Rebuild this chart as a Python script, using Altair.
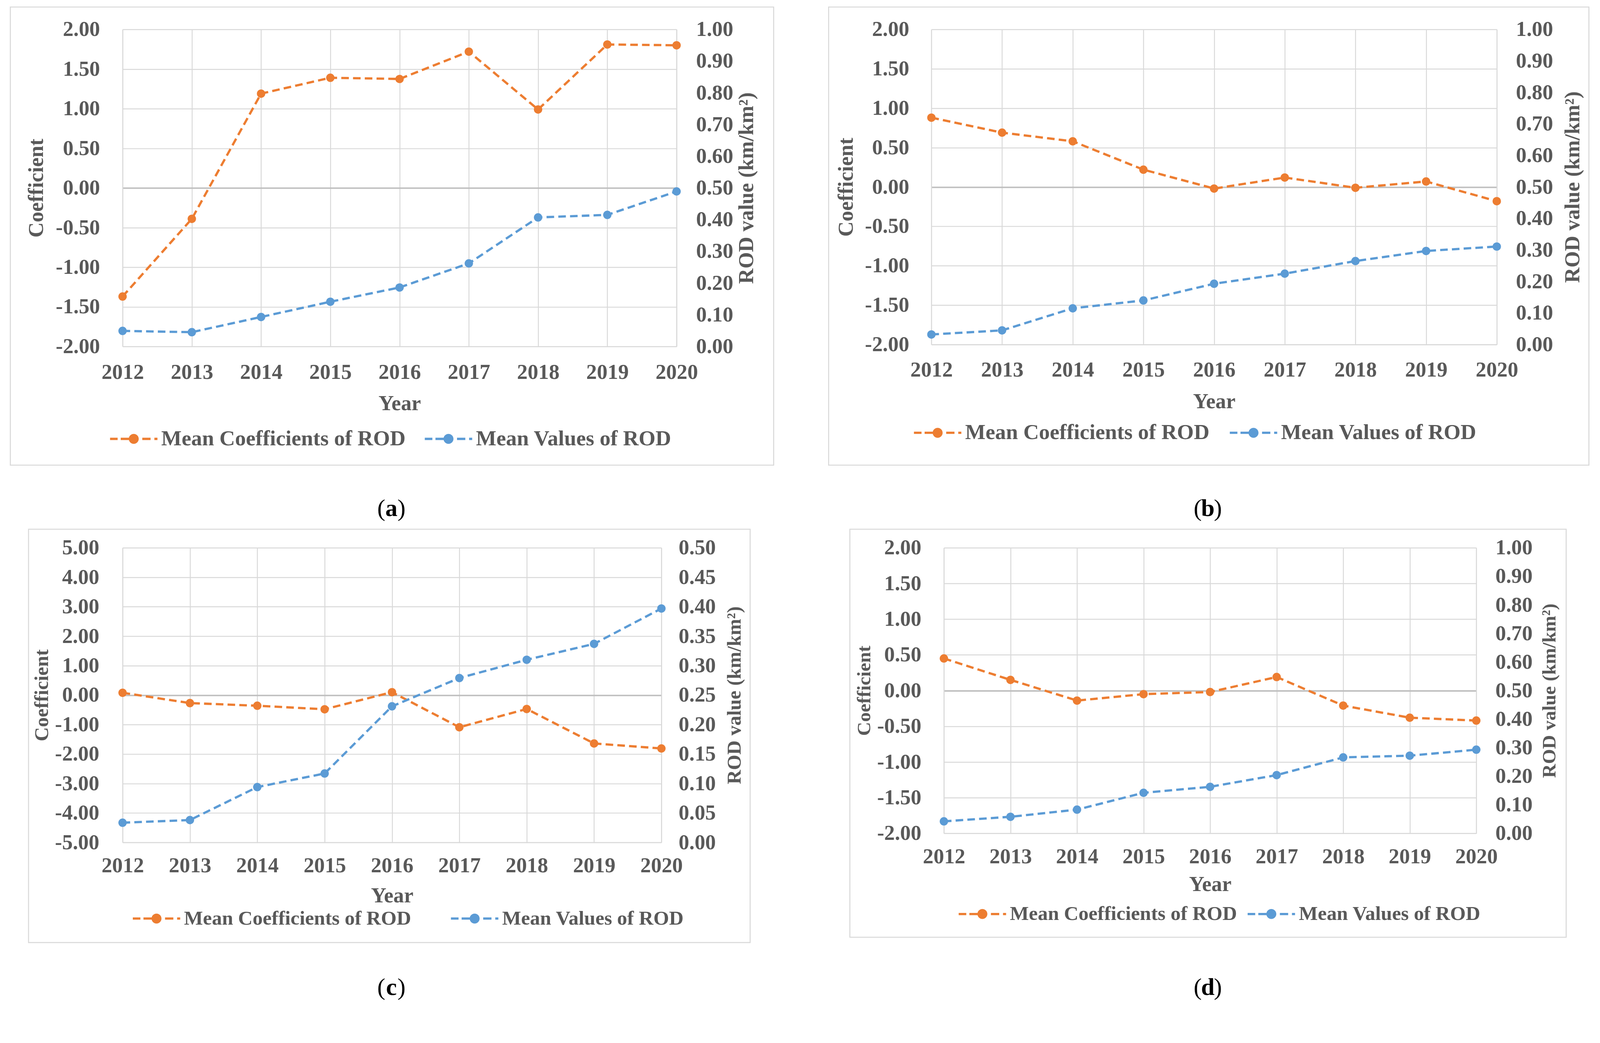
import altair as alt
import pandas as pd

# ---------------- data ----------------
years = [2012, 2013, 2014, 2015, 2016, 2017, 2018, 2019, 2020]

coef_a = [-1.37, -0.39, 1.19, 1.39, 1.375, 1.72, 0.99, 1.81, 1.80]
rod_a = [0.049, 0.045, 0.093, 0.141, 0.186, 0.262, 0.407, 0.415, 0.489]

coef_b = [0.88, 0.69, 0.58, 0.22, -0.02, 0.12, -0.01, 0.07, -0.18]
rod_b = [0.032, 0.045, 0.115, 0.140, 0.193, 0.225, 0.265, 0.297, 0.311]

coef_c = [0.08, -0.27, -0.36, -0.48, 0.10, -1.09, -0.47, -1.64, -1.81]
rod_c = [0.0335, 0.038, 0.094, 0.117, 0.231, 0.279, 0.310, 0.337, 0.397]

coef_d = [0.45, 0.15, -0.14, -0.05, -0.02, 0.19, -0.21, -0.38, -0.42]
rod_d = [0.042, 0.058, 0.083, 0.142, 0.163, 0.204, 0.266, 0.272, 0.293]

series_names = ["Mean Coefficients of ROD", "Mean Values of ROD"]
left_ticks_2 = [-2.0, -1.5, -1.0, -0.5, 0.0, 0.5, 1.0, 1.5, 2.0]
right_ticks_1 = [0.0, 0.1, 0.2, 0.3, 0.4, 0.5, 0.6, 0.7, 0.8, 0.9, 1.0]
left_ticks_5 = [-5.0, -4.0, -3.0, -2.0, -1.0, 0.0, 1.0, 2.0, 3.0, 4.0, 5.0]
right_ticks_05 = [0.0, 0.05, 0.10, 0.15, 0.20, 0.25, 0.30, 0.35, 0.40, 0.45, 0.50]

# ---------------- style ----------------
FONT = "Liberation Serif"
TEXT = "#595959"
GRID = "#D9D9D9"
ORANGE = "#ED7D31"
BLUE = "#5B9BD5"
FS = 56

u = 0.048
r = 0.21
SYMBOL = (
    f"M-1,-{u}H-0.68V{u}H-1Z "
    f"M-0.55,-{u}H-0.15V{u}H-0.55Z "
    f"M0.36,-{u}H0.71V{u}H0.36Z "
    f"M0.87,-{u}H1V{u}H0.87Z "
    f"M{r},0A{r},{r} 0 1,1 -{r},0A{r},{r} 0 1,1 {r},0Z"
)

LAYOUT = {
    "a": dict(w=1461, h=836, cell=(-314, 1789, -120, 1309), frame=(-296, 1717, -59, 1149),
              lab=(709, 1264), lgx=-33, lgy=1017, lgpad=50, lfs=57, tfs=56,
              xlp=41, xtp=28, ylp=60, ytp=22, rlp=51, rtp=8),
    "b": dict(w=1491, h=831, cell=(-344, 1755, -120, 1309), frame=(-271, 1734, -59, 1149),
              lab=(729, 1264), lgx=-46, lgy=1001, lgpad=53, lfs=57, tfs=56,
              xlp=40, xtp=28, ylp=59, ytp=20, rlp=50, rtp=25),
    "c": dict(w=1421, h=777, cell=(-346, 1789, -58, 1214), frame=(-248, 1655, -49, 1041),
              lab=(709, 1160), lgx=27, lgy=915, lgpad=104, lfs=53, tfs=52,
              xlp=34, xtp=25, ylp=62, ytp=7, rlp=45, rtp=24),
    "d": dict(w=1404, h=753, cell=(-377, 1722, -58, 1214), frame=(-248, 1641, -49, 1027),
              lab=(696, 1160), lgx=39, lgy=903, lgpad=27, lfs=53, tfs=51,
              xlp=35, xtp=18, ylp=60, ytp=7, rlp=50, rtp=20),
}
PAD_LEFT = -31
PAD_TOP = -90

LABEL_EXPR = "(datum.value < 0 ? '-' : '') + format(abs(datum.value), '.2f')"


def panel(letter, coef, rod, lticks, rticks):
    L = LAYOUT[letter]
    one = pd.DataFrame({"k": [0]})
    df_c = pd.DataFrame({"Year": years, "v": coef, "Series": series_names[0]})
    df_r = pd.DataFrame({"Year": years, "v": rod, "Series": series_names[1]})

    xenc = alt.X(
        "Year:Q",
        scale=alt.Scale(domain=[years[0], years[-1]], nice=False, zero=False),
        axis=alt.Axis(values=years, format="d", title="Year", labelPadding=L["xlp"],
                      titlePadding=L["xtp"], grid=True, labelFlush=False, labelOverlap=False),
    )
    legend = alt.Legend(
        orient="none", legendX=L["lgx"], legendY=L["lgy"], direction="horizontal",
        title=None, symbolType=SYMBOL, symbolSize=15625, symbolStrokeWidth=0,
        symbolOpacity=1, labelFont=FONT, labelFontSize=L["lfs"], labelFontWeight="bold",
        labelColor=TEXT, labelOffset=10, columnPadding=L["lgpad"], labelLimit=3000,
    )
    color = alt.Color("Series:N",
                      scale=alt.Scale(domain=series_names, range=[ORANGE, BLUE]),
                      legend=legend)

    yl = alt.Y(
        "v:Q",
        scale=alt.Scale(domain=[lticks[0], lticks[-1]], nice=False, zero=False),
        axis=alt.Axis(values=lticks, orient="left", title="Coefficient", labelExpr=LABEL_EXPR,
                      labelPadding=L["ylp"], titlePadding=L["ytp"], titleFontSize=L["tfs"],
                      grid=True, labelOverlap=False,
                      gridColor={"condition": {"test": "datum.value === 0", "value": "#BFBFBF"},
                                 "value": GRID},
                      gridWidth={"condition": {"test": "datum.value === 0", "value": 4},
                                 "value": 2.5}),
    )
    yr = alt.Y(
        "v:Q",
        scale=alt.Scale(domain=[rticks[0], rticks[-1]], nice=False, zero=False),
        axis=alt.Axis(values=rticks, orient="right", title="ROD value (km/km²)", format=".2f",
                      labelPadding=L["rlp"], titlePadding=L["rtp"], titleFontSize=L["tfs"],
                      grid=False, titleAngle=-90, titleBaseline="top", labelOverlap=False),
    )

    left = alt.layer(
        alt.Chart(df_c).mark_line(strokeWidth=6, strokeDash=[20, 11], color=ORANGE)
        .encode(x=xenc, y=yl),
        alt.Chart(df_c).mark_circle(size=490, opacity=1).encode(x=xenc, y=yl, color=color),
    )
    right = alt.layer(
        alt.Chart(df_r).mark_line(strokeWidth=6, strokeDash=[20, 11], color=BLUE)
        .encode(x=xenc, y=yr),
        alt.Chart(df_r).mark_circle(size=490, opacity=1).encode(x=xenc, y=yr, color=color),
    )

    cx, cy = L["lab"]
    cell = alt.Chart(one).mark_rect(fillOpacity=0, strokeOpacity=0).encode(
        x=alt.value(L["cell"][0]), x2=alt.value(L["cell"][1]),
        y=alt.value(L["cell"][2]), y2=alt.value(L["cell"][3]))
    frame = alt.Chart(one).mark_rect(fillOpacity=0, stroke=GRID, strokeWidth=2.7).encode(
        x=alt.value(L["frame"][0]), x2=alt.value(L["frame"][1]),
        y=alt.value(L["frame"][2]), y2=alt.value(L["frame"][3]))
    t_mid = alt.Chart(one).mark_text(font=FONT, fontSize=64, fontWeight="bold", color="black",
                                     align="center", baseline="middle").encode(
        x=alt.value(cx), y=alt.value(cy), text=alt.value(letter))
    t_l = alt.Chart(one).mark_text(font=FONT, fontSize=64, color="black",
                                   align="right", baseline="middle").encode(
        x=alt.value(cx - 16), y=alt.value(cy), text=alt.value("("))
    t_r = alt.Chart(one).mark_text(font=FONT, fontSize=64, color="black",
                                   align="left", baseline="middle").encode(
        x=alt.value(cx + 16), y=alt.value(cy), text=alt.value(")"))

    return alt.layer(cell, frame, t_l, t_mid, t_r, left, right).resolve_scale(
        y="independent").properties(width=L["w"], height=L["h"])


pa = panel("a", coef_a, rod_a, left_ticks_2, right_ticks_1)
pb = panel("b", coef_b, rod_b, left_ticks_2, right_ticks_1)
pc = panel("c", coef_c, rod_c, left_ticks_5, right_ticks_05)
pd_ = panel("d", coef_d, rod_d, left_ticks_2, right_ticks_1)

chart = alt.concat(pa, pb, pc, pd_, columns=2, spacing=0, align="none", bounds="full").resolve_scale(
    color="independent", x="independent", y="independent").resolve_legend(
    color="independent").properties(
    padding={"left": PAD_LEFT, "top": PAD_TOP, "right": 0, "bottom": 0},
    background="white").configure_view(
    strokeWidth=0).configure_axis(
    labelFont=FONT, labelFontSize=FS, labelFontWeight="bold", labelColor=TEXT,
    titleFont=FONT, titleFontSize=FS, titleFontWeight="bold", titleColor=TEXT,
    domainColor=GRID, domainWidth=2.5, gridColor=GRID, gridWidth=2.5, ticks=False)

chart.save("out.html", embed_options={"renderer": "svg", "actions": False})
